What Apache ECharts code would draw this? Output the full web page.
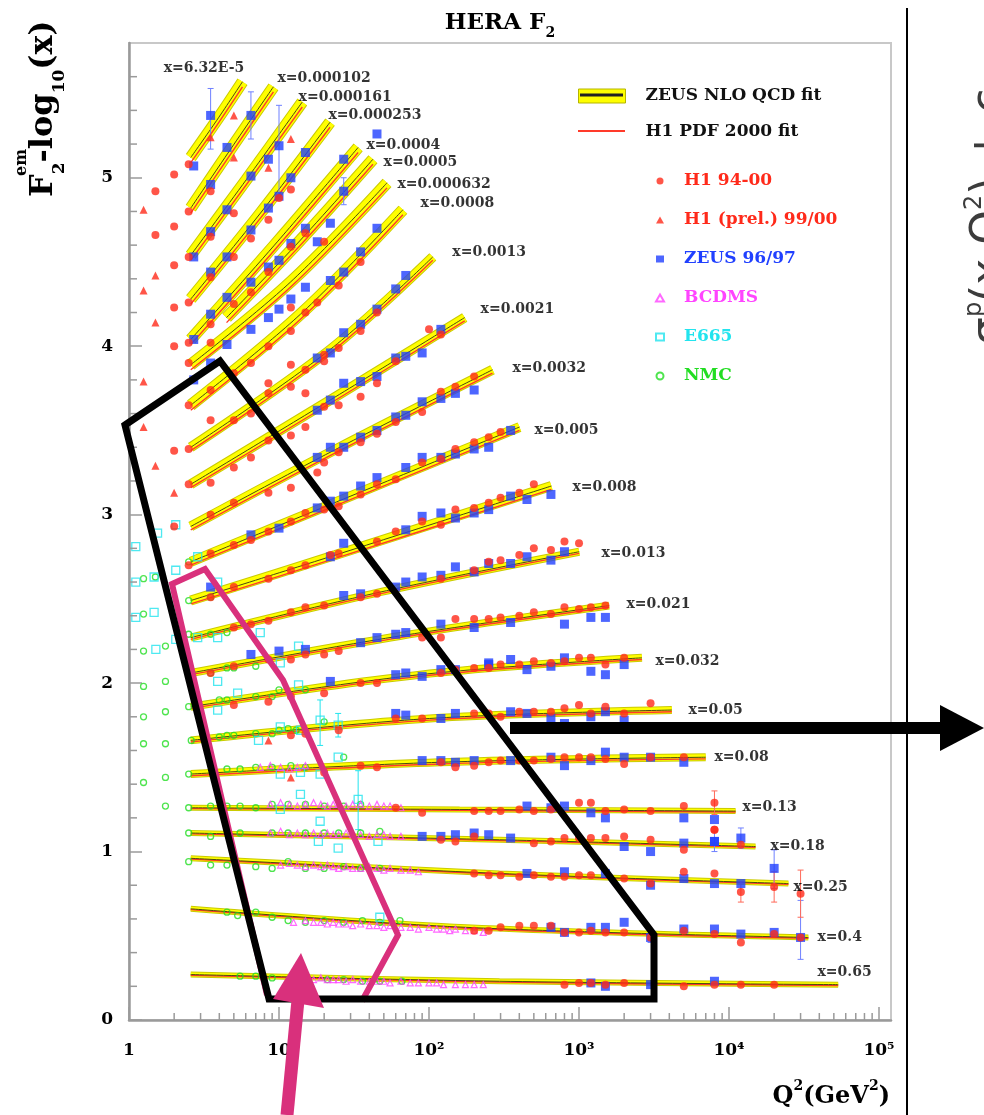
<!DOCTYPE html>
<html><head><meta charset="utf-8">
<script src="https://cdn.jsdelivr.net/npm/echarts/dist/echarts.min.js"></script>
<style>html,body{margin:0;padding:0;background:#fff}#c{width:984px;height:1115px}</style>
</head><body><div id="c"></div>
<script>
// ---------------- data ----------------
const binLabels = ['x=6.32E-5','x=0.000102','x=0.000161','x=0.000253','x=0.0004','x=0.0005','x=0.000632','x=0.0008','x=0.0013','x=0.0021','x=0.0032','x=0.005','x=0.008','x=0.013','x=0.021','x=0.032','x=0.05','x=0.08','x=0.13','x=0.18','x=0.25','x=0.4','x=0.65'];
const labelQ2 = [1.69,9.7,13.4,21.2,38.0,49.4,61.2,87.1,142,219,357,501,898,1402,2057,3212,5330,7943,12210,18770,26720,38620,38620];
const labelY  = [5.65,5.59,5.48,5.37,5.19,5.09,4.96,4.85,4.56,4.22,3.87,3.50,3.16,2.77,2.47,2.13,1.84,1.56,1.26,1.03,0.79,0.49,0.28];

const fitQ2 = [[2.58,3.84,5.71],[2.58,4.76,9.18],[2.58,6.07,14.3],[2.58,7.52,21.9],[2.58,9.32,33.7],[4.47,13.9,42.3],[2.58,11.9,52.5],[2.58,13.9,67.0],[2.58,21.9,106],[2.58,21.9,173],[2.58,21.9,265],[2.58,21.9,401],[2.58,23.7,654],[2.58,47.1,1003],[2.58,64,1587],[2.58,86.9,2628],[2.58,101,4158],[2.58,118,6993],[2.58,160,11060],[2.58,295,15020],[2.58,295,24880],[2.58,178,33790],[2.58,295,53440]];
const zeusFit = [[5.12,5.34,5.57],[4.82,5.17,5.54],[4.54,4.99,5.45],[4.28,4.79,5.33],[4.04,4.60,5.18],[4.17,4.63,5.11],[3.89,4.38,4.97],[3.65,4.19,4.81],[3.40,3.98,4.53],[3.18,3.68,4.17],[2.93,3.37,3.86],[2.72,3.06,3.52],[2.49,2.76,3.17],[2.27,2.54,2.78],[2.06,2.28,2.46],[1.86,2.05,2.15],[1.66,1.79,1.84],[1.46,1.53,1.56],[1.26,1.25,1.24],[1.11,1.07,1.03],[0.96,0.87,0.81],[0.66,0.55,0.49],[0.27,0.23,0.21]];
const h1Fit = [[5.09,5.31,5.54],[4.79,5.14,5.51],[4.51,4.96,5.42],[4.25,4.76,5.30],[4.01,4.57,5.15],[4.14,4.60,5.08],[3.86,4.35,4.94],[3.62,4.16,4.78],[3.38,3.96,4.51],[3.16,3.66,4.15],[2.91,3.35,3.84],[2.70,3.04,3.50],[2.47,2.74,3.15],[2.26,2.53,2.77],[2.05,2.27,2.45],[1.85,2.04,2.14],[1.65,1.78,1.83],[1.45,1.52,1.55],[1.255,1.245,1.235],[1.105,1.065,1.025],[0.955,0.865,0.805],[0.655,0.545,0.485],[0.265,0.225,0.205]];

const zeusData = [
[2.7,5.07],[3.5,5.37],[6.5,5.37],[4.5,5.18],[6.5,5.01],[3.5,4.96],[8.5,5.11],[10,5.19],[15,5.15],[12,5.00],[10,4.89],[8.5,4.82],[4.5,4.81],[3.5,4.68],[6.5,4.69],[2.7,4.53],[4.5,4.53],[3.5,4.44],[6.5,4.38],[4.5,4.29],[3.5,4.19],[2.7,4.04],[8.5,4.47],[10,4.51],[12,4.61],[15,4.70],[18,4.62],[15,4.35],[12,4.28],[10,4.22],[8.5,4.17],[6.5,4.10],[4.5,4.01],[3.5,3.90],[2.7,3.80],[18,3.93],[18,3.62],[18,3.34],[18,3.04],
[6.5,2.88],[10,2.92],[3.5,2.57],[6.5,2.17],[10,2.19],[15,2.20],[22,2.01],[27,2.83],[22,2.75],[27,2.52],[35,2.53],[35,2.24],
[22,4.39],[27,4.44],[35,4.56],[22,4.73],[27,4.92],[45,4.70],[27,5.11],[45,5.26],[22,3.96],[27,4.08],[35,4.13],[45,4.22],[60,4.34],[70,4.42],[22,3.68],[27,3.78],[35,3.79],[45,3.82],[60,3.93],[70,3.94],[90,3.96],[120,4.10],[22,3.40],[27,3.40],[35,3.46],[45,3.50],[60,3.58],[70,3.59],[90,3.67],[120,3.69],[150,3.72],[200,3.74],[22,3.08],[27,3.11],[35,3.17],[45,3.22],[70,3.28],[90,3.34],[120,3.34],[150,3.36],[200,3.39],[250,3.40],[350,3.50],
[70,2.91],[90,2.99],[120,3.01],[150,2.98],[200,3.01],[250,3.03],[350,3.11],[450,3.09],[650,3.12],
[60,2.57],[70,2.60],[90,2.63],[120,2.64],[150,2.69],[200,2.66],[250,2.71],[350,2.71],[450,2.75],[650,2.73],[800,2.78],
[45,2.27],[60,2.29],[70,2.30],[120,2.35],[200,2.33],[350,2.36],[800,2.35],[1200,2.39],[1500,2.39],
[60,2.05],[70,2.06],[90,2.04],[120,2.08],[150,2.08],[250,2.12],
[60,1.82],[70,1.81],[120,1.79],[150,1.82],
[90,1.54],[120,1.54],[150,1.53],[200,1.54],
[90,1.09],[120,1.09],[150,1.10],[200,1.11],
[250,2.11],[350,2.14],[450,2.08],[650,2.10],[800,2.15],[1200,2.07],[1500,2.05],[2000,2.11],
[350,1.83],[450,1.82],[650,1.79],[800,1.76],[1200,1.80],[1500,1.83],[2000,1.78],
[350,1.54],[650,1.56],[800,1.51],[1200,1.54],[1500,1.59],[2000,1.56],[3000,1.56],[5000,1.53],
[450,1.27],[650,1.26],[800,1.27],[1200,1.23],[1500,1.20],[5000,1.20],[8000,1.19],[8000,1.06],
[250,1.10],[350,1.08],[2000,1.03],[3000,1.00],[5000,1.05],[8000,1.06],[12000,1.08],[20000,0.90],
[450,0.87],[800,0.88],[1500,0.87],[3000,0.80],[5000,0.84],[8000,0.81],[12000,0.81],
[650,0.55],[800,0.52],[1200,0.55],[1500,0.55],[2000,0.58],[3000,0.49],[5000,0.54],[8000,0.54],[12000,0.51],[20000,0.52],[30000,0.49],
[1200,0.22],[1500,0.20],[3000,0.21],[8000,0.23]
];

const h1Data = [
[1.5,4.92],[2,5.02],[1.5,4.66],[2,4.71],[2,4.48],[2,4.23],[2,4.00],[2,3.38],[2,2.93],
[2.5,5.08],[3.5,4.92],[5,4.79],[2.5,4.80],[3.5,4.65],[2.5,4.53],[5,4.53],[6.5,4.64],[3.5,4.41],[2.5,4.26],[5,4.25],[6.5,4.32],[3.5,4.13],[8.5,4.75],[10,4.88],[12,4.93],[8.5,4.44],[12,4.59],[20,4.62],[15,4.67],[18,4.26],[12,4.23],[2.5,4.02],[3.5,4.02],[2.5,3.90],[3.5,3.74],[5,3.84],[6.5,3.90],[8.5,4.00],[12,4.09],[15,4.20],[8.5,3.78],[12,3.89],[15,3.86],[20,3.95],[2.5,3.65],[3.5,3.56],[5,3.56],[6.5,3.60],[8.5,3.72],[12,3.76],[15,3.72],[20,3.91],[2.5,3.39],[2.5,3.18],[3.5,3.19],[5,3.28],[6.5,3.34],[8.5,3.44],[12,3.47],[15,3.52],[20,3.64],[12,3.16],[8.5,3.13],[18,3.25],[20,3.31],
[25,4.36],[35,4.50],[25,3.99],[35,4.09],[45,4.20],[25,3.65],[35,3.70],[45,3.78],[60,3.91],[100,4.10],[120,4.07],[25,3.37],[35,3.43],[45,3.48],[60,3.55],[90,3.61],[120,3.73],[150,3.76],[200,3.82],[25,3.05],[35,3.12],[45,3.18],[60,3.21],[90,3.31],[120,3.33],[150,3.39],[200,3.43],[250,3.46],[300,3.49],
[25,2.77],[45,2.84],[60,2.90],[90,2.96],[120,2.94],[150,3.03],[200,3.04],[250,3.07],[300,3.10],[400,3.13],[500,3.18],
[35,2.51],[45,2.53],[120,2.62],[200,2.67],[250,2.72],[300,2.73],[400,2.76],[500,2.80],[650,2.79],[800,2.84],[1000,2.83],
[25,2.19],[90,2.27],[120,2.27],[150,2.38],[200,2.38],[250,2.38],[300,2.39],[400,2.40],[500,2.42],[650,2.41],[800,2.45],[1000,2.44],[1200,2.45],[1500,2.46],
[35,2.00],[45,2.00],[120,2.06],[150,2.08],[200,2.09],
[60,1.79],[90,1.79],[200,1.82],[250,1.82],
[35,1.51],[45,1.50],[120,1.53],[150,1.50],[200,1.51],
[250,2.09],[300,2.11],[400,2.11],[500,2.13],[650,2.12],[800,2.13],[1000,2.15],[1200,2.15],[1500,2.11],[2000,2.15],
[300,1.80],[400,1.83],[500,1.83],[650,1.83],[800,1.85],[1000,1.87],[1200,1.82],[1500,1.86],[2000,1.82],[3000,1.88],
[250,1.53],[300,1.54],[400,1.54],[500,1.54],[650,1.55],[800,1.56],[1000,1.56],[1200,1.56],[1500,1.55],[2000,1.52],[3000,1.56],[5000,1.56],
[250,1.24],[300,1.24],[400,1.25],[500,1.24],[650,1.25],[1000,1.29],[1200,1.29],[1500,1.24],[2000,1.25],[3000,1.24],[5000,1.27],[8000,1.29],[8000,1.13],
[500,1.05],[650,1.06],[800,1.08],[1000,1.08],[1200,1.08],[1500,1.08],[2000,1.09],[3000,1.07],[5000,1.01],[8000,1.13],[12000,1.04],
[250,0.86],[300,0.86],[400,0.85],[500,0.86],[650,0.85],[800,0.85],[1000,0.86],[1200,0.86],[2000,0.84],[3000,0.81],[5000,0.88],[8000,0.87],[12000,0.76],[20000,0.79],[30000,0.75],
[250,0.53],[300,0.55],[400,0.56],[500,0.56],[650,0.56],[800,0.52],[1000,0.52],[1200,0.53],[1500,0.52],[2000,0.52],[3000,0.49],[5000,0.53],[8000,0.51],[12000,0.46],[20000,0.51],[30000,0.49],
[800,0.21],[1000,0.22],[1200,0.22],[1500,0.21],[2000,0.22],[5000,0.20],[8000,0.21],[12000,0.21],[20000,0.21],
[3.5,3.00],[5,3.07],
[2.5,2.70],[3.5,2.77],[5,2.82],[6.5,2.85],[8.5,2.90],[12,2.96],[15,3.01],[20,3.03],
[3.5,2.51],[5,2.57],[8.5,2.62],[12,2.67],[15,2.70],[22,2.76],
[5,2.33],[6.5,2.35],[8.5,2.37],[12,2.42],[15,2.45],[20,2.46],
[3.5,2.06],[5,2.10],[8.5,2.14],[12,2.14],[15,2.17],[20,2.17],
[5,1.87],[8.5,1.89],[12,1.92],[20,1.94],
[12,1.69],[15,1.70],[25,1.72],
[20,1.47],
[60,1.26],[90,1.23],[200,1.24],
[120,1.07],[150,1.06],[200,1.09],
[200,0.87],[200,0.53]
];

const h1PrelData = [[1.25,4.81],[1.5,4.42],[1.25,4.33],[1.5,4.14],[1.25,3.79],[1.25,3.52],[1.5,3.29],[2,3.13],[5,5.37],[3.5,5.24],[8.5,5.06],[12,5.23],[5,5.12],[8.5,1.66],[12,1.44]];

const nmcData = [
[1.25,2.62],[1.5,2.63],[1.25,2.41],[1.25,2.19],[1.75,2.22],[1.25,1.98],[1.75,2.01],[1.25,1.80],[1.75,1.83],[1.25,1.64],[1.75,1.64],[1.25,1.41],[1.75,1.44],[1.75,1.27],
[2.5,2.72],[2.5,2.49],[3.5,2.51],[2.5,2.29],[3.5,2.29],[4.5,2.30],[2.5,2.06],[3.5,2.06],[4.5,2.09],[5,2.09],[7,2.10],
[2.5,1.86],[4,1.90],[4.5,1.90],[7,1.92],[9,1.92],[10,1.96],[15,1.96],
[2.6,1.66],[4,1.68],[4.5,1.69],[5,1.69],[7,1.70],[9,1.70],[10,1.72],[11.5,1.73],[13,1.72],[20,1.77],[27,1.56],
[2.5,1.46],[4.5,1.49],[5.5,1.49],[7,1.50],[9,1.50],[12,1.51],[15,1.50],
[2.5,1.26],[3.5,1.27],[4.5,1.27],[5.5,1.27],[7,1.26],[9,1.28],[11.5,1.28],[15,1.28],[20,1.27],[27,1.27],[35,1.28],
[2.5,1.11],[3.5,1.09],[5.5,1.11],[9,1.11],[11.5,1.11],[15,1.11],[20,1.11],[25,1.11],[35,1.11],[47,1.12],
[2.5,0.94],[3.5,0.92],[4.5,0.92],[7,0.91],[9,0.90],[11.5,0.94],[15,0.90],[20,0.90],[27,0.91],[35,0.90],[47,0.90],
[4.5,0.64],[5.3,0.62],[7,0.64],[9,0.61],[11.5,0.59],[15,0.58],[20,0.59],[27,0.58],[36,0.59],[47,0.58],[64,0.59],
[5.5,0.26],[7,0.26],[9,0.25],[21,0.24],[27,0.24],[36,0.23],[47,0.23],[66,0.23]
];

const e665Data = [[1.11,2.81],[1.55,2.89],[2.05,2.94],[1.11,2.60],[1.47,2.63],[2.05,2.67],[2.87,2.75],[3.9,2.60],[1.11,2.39],[1.47,2.42],[2.05,2.26],[1.51,2.20],[2.87,2.27],[3.9,2.27],[7.5,2.30],[10.2,2.12],[13.5,2.22],[3.9,2.01],[5.3,1.94],[13.5,1.99],[3.9,1.84],[7.3,1.66],[10.2,1.74],[13.9,1.72],[18.8,1.78],[24.8,1.75],[10.2,1.46],[13.9,1.47],[18.8,1.46],[13.9,1.34],[10.2,1.25],[18.8,1.18],[18.3,1.06],[24.8,1.02],[24.8,1.56],[33.7,1.31],[45.7,1.06],[47,0.61]];

const bcdmsData = [
[7.5,1.50],[8.75,1.51],[10.25,1.50],[11.75,1.49],[13.25,1.50],[15,1.51],
[8.75,1.28],[10.25,1.29],[11.75,1.28],[13.25,1.27],[15,1.28],[17,1.29],[19,1.28],[21,1.27],[23,1.28],[25,1.28],[28,1.27],[31,1.28],[35,1.28],[40,1.27],[45,1.28],[50,1.27],[55,1.27],[65,1.26],
[8.75,1.11],[10.25,1.12],[11.75,1.10],[13.25,1.11],[15,1.10],[17,1.11],[19,1.10],[21,1.11],[23,1.10],[25,1.10],[28,1.11],[31,1.10],[35,1.10],[40,1.09],[45,1.10],[50,1.10],[55,1.09],[65,1.09],
[10.25,0.92],[11.75,0.93],[13.25,0.92],[15,0.91],[17,0.92],[19,0.91],[21,0.92],[23,0.91],[25,0.90],[28,0.91],[31,0.90],[35,0.90],[40,0.91],[45,0.90],[50,0.89],[55,0.90],[65,0.89],[75,0.89],[85,0.88],
[12.5,0.58],[15,0.59],[17,0.58],[19,0.58],[21,0.57],[23,0.58],[25,0.57],[28,0.57],[31,0.56],[35,0.57],[40,0.56],[45,0.56],[50,0.55],[55,0.56],[65,0.55],[75,0.55],[85,0.54],[100,0.55],[112.5,0.54],[125,0.54],[137.5,0.53],[150,0.54],[175,0.53],[200,0.53],[230,0.52],
[12.5,0.25],[15,0.25],[17,0.24],[19,0.25],[21,0.24],[23,0.24],[25,0.24],[28,0.23],[31,0.24],[35,0.23],[40,0.23],[45,0.23],[50,0.23],[55,0.22],[65,0.23],[75,0.22],[85,0.22],[100,0.22],[112.5,0.22],[125,0.21],[150,0.21],[175,0.21],[200,0.21],[230,0.21]
];

// error bars: [Q2, low, high]
const zeusErr = [[3.5,5.17,5.53],[6.5,5.23,5.51],[10,4.90,5.43],[27,4.84,5.00],[20000,0.78,1.01],[30000,0.36,0.71],[8000,1.00,1.12],[12000,1.02,1.14],[3000,0.46,0.53]];
const h1Err = [[30000,0.61,0.89],[20000,0.70,0.88],[8000,1.22,1.36],[12000,0.70,0.82]];
const e665Err = [[18.8,1.63,1.90],[33.7,1.13,1.48],[24.8,1.68,1.82]];

// ---------------- chart ----------------
const SERIF = '"DejaVu Serif", "Liberation Serif", serif';
const RED = '#ff2a1a', BLUE = '#2040ff', MAG = '#ff44ff', CYAN = '#22e4ee', GREEN = '#22dd22';
const chart = echarts.init(document.getElementById('c'));
const series = [];
fitQ2.forEach((qs, i) => {
  const w = i < 8 ? 10 : i < 13 ? 8 : i < 18 ? 6 : 4;
  const zd = qs.map((q, j) => [q, zeusFit[i][j]]);
  const hd = qs.map((q, j) => [q, h1Fit[i][j]]);
  const base = {type:'line', smooth:0.35, symbol:'none', showSymbol:false, silent:true};
  series.push(Object.assign({}, base, {name:'bandEdge', data:zd, lineStyle:{color:'#caca00', width:w+2}, itemStyle:{color:'#caca00'}, z:1}));
  series.push(Object.assign({}, base, {name:'ZEUS NLO QCD fit', data:zd, lineStyle:{color:'#ffff00', width:w}, itemStyle:{color:'#ffff00'}, z:2}));
  series.push(Object.assign({}, base, {name:'H1 PDF 2000 fit', data:hd, lineStyle:{color:'#ff3a2a', width:1.4}, itemStyle:{color:'#ff3a2a'}, z:3}));
  series.push(Object.assign({}, base, {name:'zeusCentre', data:zd, lineStyle:{color:'#4a4a10', width:1}, itemStyle:{color:'#4a4a10'}, z:4}));
});
const errSeries = (name, data, color) => ({type:'custom', name, data, clip:false, silent:true, z:5,
  renderItem:(p, api) => {
    const a = api.coord([api.value(0), api.value(1)]), b = api.coord([api.value(0), api.value(2)]);
    const st = {stroke:color, lineWidth:1};
    return {type:'group', children:[
      {type:'line', shape:{x1:a[0], y1:a[1], x2:b[0], y2:b[1]}, style:st},
      {type:'line', shape:{x1:a[0]-3, y1:a[1], x2:a[0]+3, y2:a[1]}, style:st},
      {type:'line', shape:{x1:b[0]-3, y1:b[1], x2:b[0]+3, y2:b[1]}, style:st}]};
  }});
series.push(errSeries('zeusErr', zeusErr, '#6f80ff'));
series.push(errSeries('h1Err', h1Err, '#ff6a5a'));
series.push(errSeries('e665Err', e665Err, CYAN));
const hollow = 'rgba(255,255,255,0)';
series.push({type:'scatter', name:'NMC', data:nmcData, symbol:'circle', symbolSize:6, itemStyle:{color:hollow, borderColor:GREEN, borderWidth:1.3}, z:5, silent:true});
series.push({type:'scatter', name:'E665', data:e665Data, symbol:'rect', symbolSize:8, itemStyle:{color:hollow, borderColor:CYAN, borderWidth:1.3}, z:5, silent:true});
series.push({type:'scatter', name:'BCDMS', data:bcdmsData, symbol:'triangle', symbolSize:6, itemStyle:{color:hollow, borderColor:MAG, borderWidth:1.2}, z:5, silent:true});
series.push({type:'scatter', name:'ZEUS 96/97', data:zeusData, symbol:'rect', symbolSize:9, itemStyle:{color:BLUE}, z:6, silent:true});
series.push({type:'scatter', name:'H1 94-00', data:h1Data, symbol:'circle', symbolSize:8, itemStyle:{color:RED}, z:7, silent:true});
series.push({type:'scatter', name:'H1 (prel.) 99/00', data:h1PrelData, symbol:'triangle', symbolSize:8, itemStyle:{color:RED}, z:7, silent:true});

// minor ticks (log x axis decades 2..9, y every 0.2)
const xMinor = []; for (let e = 0; e < 5; e++) for (let k = 2; k <= 9; k++) xMinor.push([k * Math.pow(10, e), 0]);
const yMinor = []; for (let i = 1; i < 29; i++) if (i % 5) yMinor.push([1, +(i * 0.2).toFixed(1)]);
series.push({type:'custom', name:'xMinor', data:xMinor, clip:false, silent:true, z:8,
  renderItem:(p, api) => { const c = api.coord([api.value(0), 0]); return {type:'line', shape:{x1:c[0], y1:c[1], x2:c[0], y2:c[1]-7}, style:{stroke:'#9a9a9a', lineWidth:1.5}}; }});
series.push({type:'custom', name:'yMinor', data:yMinor, clip:false, silent:true, z:8,
  renderItem:(p, api) => { const c = api.coord([1, api.value(1)]); return {type:'line', shape:{x1:c[0], y1:c[1], x2:c[0]+8, y2:c[1]}, style:{stroke:'#9a9a9a', lineWidth:1.5}}; }});
// bin labels
series.push({type:'scatter', name:'binLabels', data:binLabels.map((t, i) => ({name:t, value:[labelQ2[i], labelY[i]]})),
  symbolSize:1, itemStyle:{color:hollow}, silent:true, z:9,
  label:{show:true, position:'right', distance:0, formatter:'{b}', fontFamily:SERIF, fontWeight:'bold', fontSize:14, color:'#000'}});

const sup = {'2':'²','3':'³','4':'⁴','5':'⁵'};
const option = {
  animation:false,
  backgroundColor:'#fff',
  grid:{left:129, top:43, width:762, height:977, show:true, borderColor:'#c8c8c8', borderWidth:2},
  xAxis:{type:'log', logBase:10, min:1, max:120226,
    axisLine:{lineStyle:{color:'#9a9a9a', width:2.5}},
    axisTick:{inside:true, length:13, lineStyle:{color:'#9a9a9a', width:1.5}},
    splitLine:{show:false}, minorTick:{show:false},
    axisLabel:{showMaxLabel:false, margin:22, fontFamily:SERIF, fontWeight:'bold', fontSize:17, color:'#000',
      formatter:v => { const l = Math.log10(v), e = Math.round(l); if (Math.abs(l - e) > 0.01) return ''; return e === 0 ? '1' : e === 1 ? '10' : '10' + sup[e]; }}},
  yAxis:{type:'value', min:0, max:5.8, interval:1,
    axisLine:{show:true, lineStyle:{color:'#9a9a9a', width:2.5}},
    axisTick:{show:true, inside:true, length:13, lineStyle:{color:'#9a9a9a', width:1.5}},
    splitLine:{show:false},
    axisLabel:{showMaxLabel:false, margin:16, fontFamily:SERIF, fontWeight:'bold', fontSize:17, color:'#000'}},
  legend:[
    {orient:'vertical', left:573, top:82, itemWidth:47, itemHeight:14, itemGap:18, selectedMode:false,
     textStyle:{fontFamily:SERIF, fontWeight:'bold', fontSize:17, lineHeight:18, color:'#111', padding:[0,0,0,15]},
     data:[{name:'ZEUS NLO QCD fit', icon:'rect', itemStyle:{color:'#ffff00', borderColor:'#b5b500', borderWidth:1}},
           {name:'H1 PDF 2000 fit', icon:'rect', itemStyle:{color:'rgba(0,0,0,0)', borderWidth:0}}]},
    {orient:'vertical', left:650, top:167, itemWidth:8, itemHeight:7, itemGap:21, selectedMode:false,
     textStyle:{fontFamily:SERIF, fontWeight:'bold', fontSize:17, lineHeight:18, padding:[0,0,0,15]},
     data:[{name:'H1 94-00', textStyle:{color:RED}}, {name:'H1 (prel.) 99/00', textStyle:{color:RED}}, {name:'ZEUS 96/97', textStyle:{color:BLUE}},
           {name:'BCDMS', textStyle:{color:MAG}}, {name:'E665', textStyle:{color:CYAN}}, {name:'NMC', textStyle:{color:GREEN}}]}
  ],
  series,
  graphic:[
    {type:'text', x:500, y:23, z:100, style:{text:'{b|HERA F}{s|2}', textAlign:'center', textVerticalAlign:'middle', align:'center', verticalAlign:'middle',
      rich:{b:{fontFamily:SERIF, fontWeight:'bold', fontSize:23, lineHeight:34, fill:'#000'}, s:{fontFamily:SERIF, fontWeight:'bold', fontSize:14, lineHeight:14, verticalAlign:'bottom', fill:'#000'}}}},
    {type:'group', x:44, y:197, rotation:Math.PI/2, z:100, children:[
      {type:'text', x:0, y:0, style:{text:'{b|F}{s|2}{b|-log}{s|10}{b|(x)}', textAlign:'left', textVerticalAlign:'middle', align:'left', verticalAlign:'middle',
        rich:{b:{fontFamily:SERIF, fontWeight:'bold', fontSize:32, lineHeight:48, fill:'#000'}, s:{fontFamily:SERIF, fontWeight:'bold', fontSize:17, lineHeight:19, verticalAlign:'bottom', fill:'#000'}}}},
      {type:'text', x:21, y:-22, style:{text:'em', fontFamily:SERIF, fontWeight:'bold', fontSize:16, textAlign:'left', textVerticalAlign:'middle', align:'left', verticalAlign:'middle', fill:'#000'}}
    ]},
    {type:'text', x:890, y:1097, z:100, style:{text:'{b|Q}{p|2}{b|(GeV}{p|2}{b|)}', textAlign:'right', textVerticalAlign:'middle', align:'right', verticalAlign:'middle',
      rich:{b:{fontFamily:SERIF, fontWeight:'bold', fontSize:24, lineHeight:36, fill:'#000'}, p:{fontFamily:SERIF, fontWeight:'bold', fontSize:14, lineHeight:14, verticalAlign:'top', fill:'#000'}}}},
    {type:'group', x:991, y:345, rotation:Math.PI/2, z:100, children:[
      {type:'text', x:0, y:0, style:{text:'{b|σ}{p|p}{b|(x,Q}{p|2}{b|) + c}', textAlign:'left', textVerticalAlign:'middle', align:'left', verticalAlign:'middle',
        rich:{b:{fontFamily:'"DejaVu Sans", sans-serif', fontSize:44, lineHeight:56, fill:'#3c3c3c'}, p:{fontFamily:'"DejaVu Sans", sans-serif', fontSize:24, lineHeight:24, verticalAlign:'top', fill:'#3c3c3c'}}}}
    ]},
    {type:'line', z:100, shape:{x1:907, y1:8, x2:907, y2:1115}, style:{stroke:'#000', lineWidth:2}},
    {type:'line', z:130, shape:{x1:580, y1:95, x2:623, y2:95}, style:{stroke:'#222', lineWidth:3}},
    {type:'line', z:130, shape:{x1:578, y1:131, x2:625, y2:131}, style:{stroke:'#ff3a2a', lineWidth:2}},
    {type:'polyline', z:110, shape:{points:[[267,995],[172,584],[205,569],[283,680],[398,935],[362,1001]]}, style:{stroke:'#d9307c', lineWidth:6, fill:null}},
    {type:'polygon', z:111, shape:{points:[[125,425],[220,361],[654,935],[654,999],[269,999]]}, style:{stroke:'#000', lineWidth:7, fill:null}},
    {type:'line', z:112, shape:{x1:287, y1:1115, x2:298, y2:1000}, style:{stroke:'#d9307c', lineWidth:13}},
    {type:'polygon', z:112, shape:{points:[[301,953],[273,999],[324,1008]]}, style:{fill:'#d9307c'}},
    {type:'line', z:112, shape:{x1:510, y1:728, x2:945, y2:728}, style:{stroke:'#000', lineWidth:12}},
    {type:'polygon', z:112, shape:{points:[[940,705],[984,728],[940,751]]}, style:{fill:'#000'}}
  ]
};
chart.setOption(option);
</script>
</body></html>
